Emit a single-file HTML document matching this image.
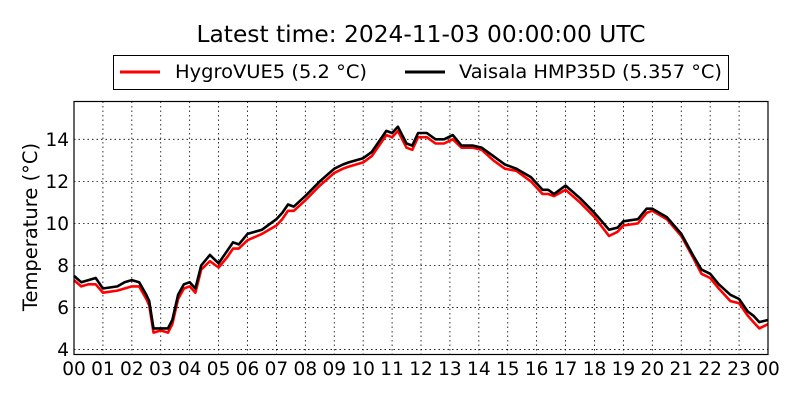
<!DOCTYPE html>
<html><head><meta charset="utf-8"><style>
html,body{margin:0;padding:0;background:#fff;}
svg{display:block;font-family:"DejaVu Sans","Liberation Sans",sans-serif;}
</style></head><body>
<svg id="chart" width="800" height="400" viewBox="0 0 800 400" xmlns="http://www.w3.org/2000/svg">
<rect width="800" height="400" fill="#fff"/>
<text x="421" y="42" text-anchor="middle" font-size="23" textLength="449" lengthAdjust="spacingAndGlyphs">Latest time: 2024-11-03 00:00:00 UTC</text>
<g>
<rect x="113.5" y="55.5" width="615" height="34" fill="#fff" stroke="#000" stroke-width="1"/>
<line x1="120" y1="72" x2="160" y2="72" stroke="#f00" stroke-width="3"/>
<text x="175" y="78" font-size="19" textLength="192" lengthAdjust="spacingAndGlyphs">HygroVUE5 (5.2 °C)</text>
<line x1="405" y1="72" x2="445" y2="72" stroke="#000" stroke-width="3"/>
<text x="459" y="78" font-size="19" textLength="263" lengthAdjust="spacingAndGlyphs">Vaisala HMP35D (5.357 °C)</text>
</g>
<g id="grid"></g>
<g id="series"></g>
<rect x="74" y="101.5" width="694" height="253" fill="none" stroke="#000" stroke-width="1.2"/>
<g id="ticks"></g>
<text transform="translate(37,227) rotate(-90)" text-anchor="middle" font-size="19.5">Temperature (°C)</text>
</svg>
<script>
const hoursBlack = [0,0.25,0.5,0.75,1,1.5,1.75,2,2.25,2.5,2.6,2.75,3,3.25,3.4,3.6,3.8,4,4.2,4.4,4.7,5,5.3,5.5,5.7,6,6.5,7,7.2,7.4,7.6,8,8.5,9,9.3,9.5,10,10.3,10.6,10.8,11,11.2,11.5,11.7,11.9,12.2,12.5,12.8,13.1,13.4,13.8,14.1,14.5,14.9,15.3,15.8,16.2,16.4,16.6,17,17.5,18,18.5,18.8,19,19.5,19.8,20,20.5,21,21.4,21.7,22,22.3,22.7,23,23.3,23.5,23.7,24];
const tempBlack = [7.5,7.2,7.3,7.4,6.9,7.0,7.2,7.3,7.2,6.6,6.3,5.0,5.0,5.0,5.4,6.6,7.1,7.2,6.9,8.0,8.5,8.1,8.7,9.1,9.0,9.5,9.7,10.2,10.5,10.9,10.8,11.3,12.0,12.6,12.8,12.9,13.1,13.4,14.0,14.4,14.3,14.6,13.8,13.7,14.3,14.3,14.0,14.0,14.2,13.7,13.7,13.6,13.2,12.8,12.6,12.2,11.6,11.6,11.4,11.8,11.2,10.5,9.7,9.8,10.1,10.2,10.7,10.7,10.3,9.5,8.5,7.8,7.6,7.1,6.6,6.4,5.8,5.6,5.3,5.4];
const hoursRed = hoursBlack;
const tempRed = [7.3,7.0,7.1,7.1,6.7,6.8,6.9,7.0,7.0,6.4,6.1,4.8,4.9,4.8,5.2,6.4,6.9,7.0,6.7,7.8,8.2,7.9,8.4,8.8,8.8,9.2,9.5,9.9,10.2,10.6,10.6,11.1,11.8,12.4,12.6,12.7,12.9,13.2,13.8,14.2,14.1,14.4,13.6,13.5,14.1,14.1,13.8,13.8,14.0,13.6,13.6,13.5,13.0,12.6,12.5,12.0,11.4,11.4,11.3,11.6,11.0,10.3,9.4,9.6,9.9,10.0,10.5,10.6,10.2,9.4,8.4,7.6,7.4,6.9,6.3,6.2,5.6,5.3,5.0,5.2];
const yTicks = [4,6,8,10,12,14];
const xTicks = ["00","01","02","03","04","05","06","07","08","09","10","11","12","13","14","15","16","17","18","19","20","21","22","23","00"];

const NS = "http://www.w3.org/2000/svg";
const X0 = 74, X1 = 768, Y0 = 354.5, Y1 = 101.5, TMIN = 3.76, TMAX = 15.8;
function xs(h){ return X0 + (X1 - X0) * h / 24; }
function ys(t){ return Y0 - (Y0 - Y1) * (t - TMIN) / (TMAX - TMIN); }
function mk(tag, parent){ const e = document.createElementNS(NS, tag); parent.appendChild(e); return e; }

const grid = document.getElementById('grid');
const ticks = document.getElementById('ticks');
xTicks.forEach((lab, i) => {
  const x = xs(i);
  if (i > 0 && i < 24) {
    const g = mk('line', grid);
    
    
    g.setAttribute('x1', x); g.setAttribute('x2', x); g.setAttribute('y1', Y1); g.setAttribute('y2', Y0);
    g.setAttribute('stroke', '#000'); g.setAttribute('stroke-width', '0.8'); g.setAttribute('stroke-dasharray', '1.5,3');
  }
  const t = mk('text', ticks);
  
  
  t.setAttribute('x', x); t.setAttribute('y', 375); t.setAttribute('text-anchor', 'middle'); t.setAttribute('font-size', '18.5');
  t.textContent = lab;
});
yTicks.forEach(v => {
  const y = ys(v);
  const g = mk('line', grid);
  
  
  g.setAttribute('x1', X0); g.setAttribute('x2', X1); g.setAttribute('y1', y); g.setAttribute('y2', y);
  g.setAttribute('stroke', '#000'); g.setAttribute('stroke-width', '0.8'); g.setAttribute('stroke-dasharray', '1.5,3');
  const t = mk('text', ticks);
  
  
  t.setAttribute('x', 69); t.setAttribute('y', y + 6.5); t.setAttribute('text-anchor', 'end'); t.setAttribute('font-size', '18.5');
  t.textContent = v;
});

const series = document.getElementById('series');
function drawLine(hs, ts, color, name){
  const p = mk('polyline', series);
  
  
  p.setAttribute('points', hs.map((h, i) => xs(h).toFixed(1) + ',' + ys(ts[i]).toFixed(1)).join(' '));
  p.setAttribute('fill', 'none'); p.setAttribute('stroke', color); p.setAttribute('stroke-width', '2.6');
  p.setAttribute('stroke-linejoin', 'round');
}
drawLine(hoursRed, tempRed, '#f00', 'hygrovue5-line');
drawLine(hoursBlack, tempBlack, '#000', 'hmp35d-line');
</script>
</body></html>
